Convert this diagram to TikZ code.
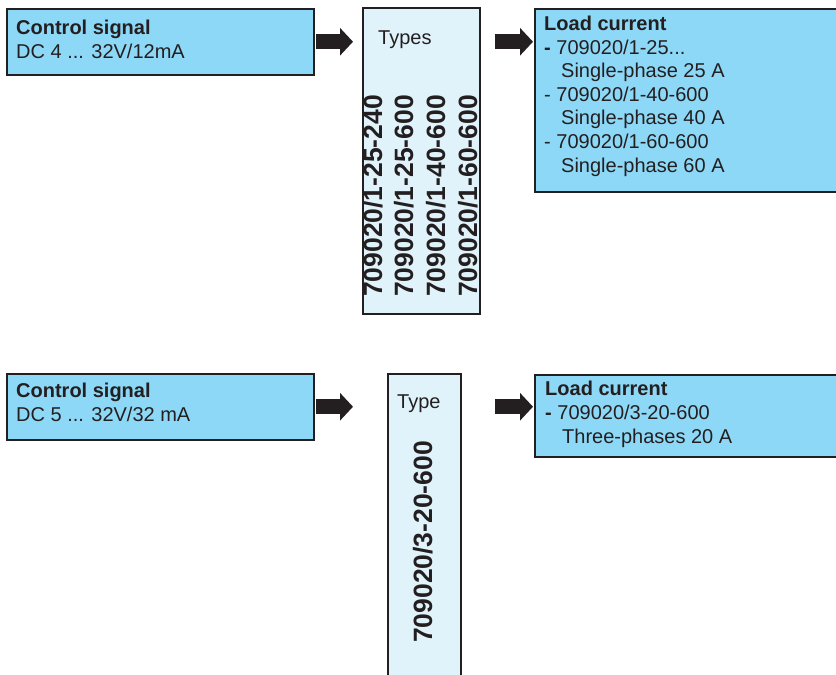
\documentclass[tikz,border=0pt]{standalone}
\usepackage{fontspec}
\setmainfont{Liberation Sans}
\usetikzlibrary{arrows.meta,positioning}
\definecolor{ink}{HTML}{231F20}
\definecolor{signalblue}{HTML}{8DD8F6}
\definecolor{typeblue}{HTML}{E0F3FB}

\begin{document}
\begin{tikzpicture}[x=1pt,y=-1pt,
		infobox/.style={draw=ink,line width=1.5pt,fill=signalblue,anchor=north west,inner sep=0pt},
		typebox/.style={draw=ink,line width=1.5pt,fill=typeblue,anchor=north west,inner sep=0pt},
		% base of a multi-line node = baseline of its last line
		infotext/.style={anchor=base west,inner sep=0pt,text=ink,align=left,
			font=\fontsize{20}{23.6}\selectfont},
		typeno/.style={anchor=base west,inner sep=0pt,text=ink,rotate=90,
			font=\fontsize{26.5}{30}\selectfont\bfseries},
		blockarrow/.style={ink,line width=15pt,-{Triangle[length=13pt,width=27pt]}},
	]
	\useasboundingbox (0,0) rectangle (836,675);

	% single-phase
	\node[infobox,minimum width=307pt,minimum height=66pt] (cs1) at (6,8) {};
	\node[infotext] (cs1t) at (16,58.5) {\textbf{Control signal}\\DC 4 ... 32V/12mA};
	\node[typebox,minimum width=117pt,minimum height=306pt] (ty1) at (362,7) {};
	\node[infotext] (ty1t) at (378,44) {Types};
	\foreach \x/\s [count=\i] in {382/25-240,413/25-600,445/40-600,477/60-600}
		\node[typeno] (tno\i) at (\x,297) {709020/1-\s};
	\node[infobox,minimum width=310pt,minimum height=183pt] (ld1) at (534,8) {};
	\node[infotext] (ld1t) at (544,172) {\textbf{Load current}\\
		\textbf{-} 709020/1-25...\\
		\hspace*{17pt}Single-phase 25 A\\
		- 709020/1-40-600\\
		\hspace*{17pt}Single-phase 40 A\\
		- 709020/1-60-600\\
		\hspace*{17pt}Single-phase 60 A};
	\draw[blockarrow,shorten <=1.5pt,shorten >=9pt] (cs1.east) -- (cs1.east -| ty1.west);
	\draw[blockarrow,shorten <=14pt,shorten >=1pt] (cs1.east -| ty1.east) -- (cs1.east -| ld1.west);

	% three-phase
	\node[infobox,minimum width=307pt,minimum height=66pt] (cs2) at (6,373) {};
	\node[infotext] (cs2t) at (16,421.5) {\textbf{Control signal}\\DC 5 ... 32V/32 mA};
	\node[typebox,minimum width=73pt,minimum height=320pt] (ty2) at (387,373) {};
	\node[infotext] (ty2t) at (397,408) {Type};
	\node[typeno] (tno5) at (432,643) {709020/3-20-600};
	\node[infobox,minimum width=310pt,minimum height=82pt] (ld2) at (534,374) {};
	\node[infotext] (ld2t) at (545,443) {\textbf{Load current}\\
		\textbf{-} 709020/3-20-600\\
		\hspace*{17pt}Three-phases 20 A};
	\draw[blockarrow,shorten <=1.5pt,shorten >=34pt] (cs2.east) -- (cs2.east -| ty2.west);
	\draw[blockarrow,shorten <=33pt,shorten >=1pt] (cs2.east -| ty2.east) -- (cs2.east -| ld2.west);
\end{tikzpicture}
\end{document}
